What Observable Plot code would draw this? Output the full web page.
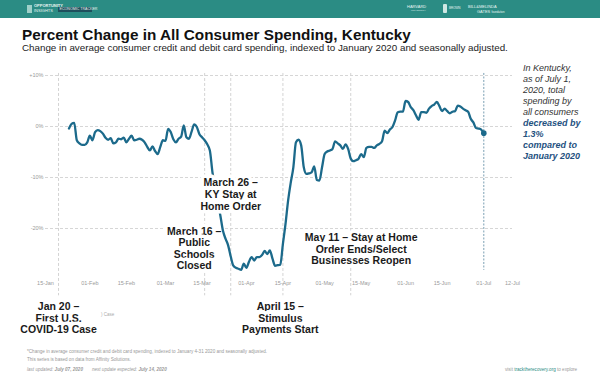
<!DOCTYPE html>
<html>
<head>
<meta charset="utf-8">
<script src="https://cdn.jsdelivr.net/npm/d3@7"></script>
<script src="https://cdn.jsdelivr.net/npm/@observablehq/plot@0.6"></script>
<style>
  html, body { margin: 0; padding: 0; background: #fff; }
  body { width: 600px; height: 382px; overflow: hidden; position: relative; font-family: "Liberation Sans", Arial, sans-serif; }
  .abs { position: absolute; white-space: nowrap; }
  #header { left: 0; top: 0; width: 600px; height: 18px; background: #2b8c84; }
  #title { left: 22px; top: 27px; font-size: 15.3px; font-weight: bold; color: #111; line-height: 1; }
  #subtitle { left: 22px; top: 43px; font-size: 9.8px; color: #222; line-height: 1; }
  #chart { left: 0; top: 55px; }
  #note { left: 523px; top: 62.5px; font-size: 9px; font-style: italic; line-height: 11.1px; color: #333; }
  #note b { color: #24517f; }
  .foot { font-size: 4.6px; color: #999; line-height: 1; }
</style>
</head>
<body>
<div id="header" class="abs"></div>
<div class="abs" style="left:34px;top:4px;font-size:4px;font-weight:bold;color:#e8f4f2;line-height:1;">OPPORTUNITY</div>
<div class="abs" style="left:34px;top:8.5px;font-size:4px;color:#e8f4f2;line-height:1;">INSIGHTS</div>
<div class="abs" style="left:27px;top:5px;width:5px;height:8px;background:#9fd0c9;"></div>
<div class="abs" style="left:58px;top:7px;width:34px;height:5px;background:#1f4f5c;"></div>
<div class="abs" style="left:59.5px;top:7.5px;font-size:3.6px;color:#e8f4f2;line-height:1;">ECONOMIC TRACKER</div>
<div class="abs" style="left:407px;top:5px;font-size:4px;color:#e8f4f2;line-height:1;">HARVARD</div>
<div class="abs" style="left:411px;top:10px;font-size:2.5px;color:#cfe7e3;line-height:1;">UNIVERSITY</div>
<div class="abs" style="left:443px;top:4px;width:4px;height:9px;background:#cfe7e3;border-radius:1px;"></div>
<div class="abs" style="left:449px;top:6.5px;font-size:3px;color:#e8f4f2;line-height:1;">BROWN</div>
<div class="abs" style="left:468px;top:4.5px;font-size:4px;color:#e8f4f2;line-height:1;">BILL&amp;MELINDA</div>
<div class="abs" style="left:477px;top:9.5px;font-size:4px;color:#e8f4f2;line-height:1;">GATES <span style="font-size:2.8px">foundation</span></div>

<div id="title" class="abs">Percent Change in All Consumer Spending, Kentucky</div>
<div id="subtitle" class="abs">Change in average consumer credit and debit card spending, indexed to January 2020 and seasonally adjusted.</div>
<div id="chart" class="abs"></div>
<div id="note" class="abs">In Kentucky,<br>as of July 1,<br>2020, total<br>spending by<br>all consumers<br><b>decreased by<br>1.3%<br>compared to<br>January 2020</b></div>
<div class="abs" style="left:101px;top:313px;font-size:4.5px;color:#aaa;line-height:1;">) Case</div>

<div class="abs foot" style="left:27px;top:350px;">*Change in average consumer credit and debit card spending, indexed to January 4-31 2020 and seasonally adjusted.</div>
<div class="abs foot" style="left:27px;top:357.5px;">This series is based on data from Affinity Solutions.</div>
<div class="abs foot" style="left:27px;top:367.5px;font-style:italic;">last updated: <b>July 07, 2020</b> &nbsp;&nbsp;&nbsp;&nbsp;&nbsp; next update expected: <b>July 14, 2020</b></div>
<div class="abs foot" style="left:505px;top:367.5px;">visit <span style="color:#2b8c84">tracktherecovery.org</span> to explore</div>

<script>
// ---- data ----
const dates = [
  "2020-01-24","2020-01-25","2020-01-26","2020-01-27","2020-01-28","2020-01-29","2020-01-30","2020-01-31",
  "2020-02-01","2020-02-02","2020-02-03","2020-02-04","2020-02-05","2020-02-06","2020-02-07","2020-02-08",
  "2020-02-09","2020-02-10","2020-02-11","2020-02-12","2020-02-13","2020-02-14","2020-02-15","2020-02-16",
  "2020-02-17","2020-02-18","2020-02-19","2020-02-20","2020-02-21","2020-02-22","2020-02-23","2020-02-24",
  "2020-02-25","2020-02-26","2020-02-27","2020-02-28","2020-02-29",
  "2020-03-01","2020-03-02","2020-03-03","2020-03-04","2020-03-05","2020-03-06","2020-03-07","2020-03-08",
  "2020-03-09","2020-03-10","2020-03-11","2020-03-12","2020-03-13","2020-03-14","2020-03-15","2020-03-16",
  "2020-03-17","2020-03-18","2020-03-19","2020-03-20","2020-03-21","2020-03-22","2020-03-23","2020-03-24",
  "2020-03-25","2020-03-26","2020-03-27","2020-03-28","2020-03-29","2020-03-30","2020-03-31",
  "2020-04-01","2020-04-02","2020-04-03","2020-04-04","2020-04-05","2020-04-06","2020-04-07","2020-04-08",
  "2020-04-09","2020-04-10","2020-04-11","2020-04-12","2020-04-13","2020-04-14","2020-04-15","2020-04-16",
  "2020-04-17","2020-04-18","2020-04-19","2020-04-20","2020-04-21","2020-04-22","2020-04-23","2020-04-24",
  "2020-04-25","2020-04-26","2020-04-27","2020-04-28","2020-04-29","2020-04-30",
  "2020-05-01","2020-05-02","2020-05-03","2020-05-04","2020-05-05","2020-05-06","2020-05-07","2020-05-08",
  "2020-05-09","2020-05-10","2020-05-11","2020-05-12","2020-05-13","2020-05-14","2020-05-15","2020-05-16",
  "2020-05-17","2020-05-18","2020-05-19","2020-05-20","2020-05-21","2020-05-22","2020-05-23","2020-05-24",
  "2020-05-25","2020-05-26","2020-05-27","2020-05-28","2020-05-29","2020-05-30","2020-05-31",
  "2020-06-01","2020-06-02","2020-06-03","2020-06-04","2020-06-05","2020-06-06","2020-06-07","2020-06-08",
  "2020-06-09","2020-06-10","2020-06-11","2020-06-12","2020-06-13","2020-06-14","2020-06-15","2020-06-16",
  "2020-06-17","2020-06-18","2020-06-19","2020-06-20","2020-06-21","2020-06-22","2020-06-23","2020-06-24",
  "2020-06-25","2020-06-26","2020-06-27","2020-06-28","2020-06-29","2020-06-30","2020-07-01"
];
const values = [
  -0.4, 0.5, 0.7, -2.7, -3.3, -3.6, -3.6, -3.1,
  -1.8, -2.7, -1.1, -0.7, -0.9, -1.4, -2.2, -2.6,
  -2.3, -3.3, -3.1, -2.4, -2.5, -2.2, -3.1, -2.4,
  -1.8, -2.7, -2.6, -2.4, -2.6, -3.1, -4.0, -4.7,
  -3.9, -4.8, -5.4, -4.0, -2.7,
  -2.8, -0.45, -1.1, -2.5, -3.1, -2.4, -2.0, 0.2,
  -2.1, -2.4, -1.0, 0.4, -0.1, -1.5, -2.1, -2.7,
  -3.5, -4.7, -9.0, -12.0, -15.0, -17.4, -20.4, -22.0,
  -23.3, -25.5, -27.3, -27.7, -27.9, -28.1, -26.9,
  -27.7, -26.5, -25.6, -26.3, -25.6, -25.6, -25.2, -24.4,
  -25.0, -24.3, -25.9, -27.3, -27.2, -27.1, -23.0, -19.1,
  -14.5, -11.0, -8.0, -3.1, -2.6, -3.7, -8.0, -9.3,
  -9.2, -9.0, -7.8, -10.5, -10.6, -8.0,
  -5.4, -4.9, -4.7, -4.4, -2.9, -3.3, -3.7, -4.4,
  -3.5, -4.4, -6.3, -6.8, -6.6, -6.3, -5.4, -6.0,
  -4.2, -4.0, -4.0, -4.2, -3.7, -3.4, -2.9, -0.8,
  -1.3, -0.6, -0.1, 1.2, 2.8, 2.9, 2.9,
  5.0, 4.8, 3.8, 3.2, 2.2, 1.3, 2.8, 2.8,
  2.7, 3.5, 4.0, 4.3, 4.8, 4.0, 3.0, 3.5,
  3.0, 2.6, 2.9, 3.0, 4.1, 3.9, 3.5, 3.2,
  2.9, 1.5, 0.8, -0.3, -0.4, -0.6, -1.3
];
const xTicks = ["2020-01-15","2020-02-01","2020-02-15","2020-03-01","2020-03-15","2020-04-01","2020-04-15",
                "2020-05-01","2020-05-15","2020-06-01","2020-06-15","2020-07-01","2020-07-12"];
const yTicks = [10, 0, -10, -20];
const xDomain = ["2020-01-15", "2020-07-12"];
const eventDates = ["2020-01-20", "2020-03-16", "2020-03-26", "2020-04-15", "2020-05-11"];
const latestDate = "2020-07-01";
const labelDates = ["2020-01-20", "2020-03-12", "2020-03-26", "2020-04-14", "2020-05-15"];
const labelValues = [-37.6, -23.9, -13.3, -37.6, -24.0];
const labelTexts = [
  "Jan 20 –\nFirst U.S.\nCOVID-19 Case",
  "March 16 –\nPublic\nSchools\nClosed",
  "March 26 –\nKY Stay at\nHome Order",
  "April 15 –\nStimulus\nPayments Start",
  "May 11 – Stay at Home\nOrder Ends/Select\nBusinesses Reopen"
];
// the label drawn over the line (its box hides part of the curve)
const overLineLabel = "March 26 –\nKY Stay at\nHome Order";

// ---- build ----
const parse = d3.utcParse("%Y-%m-%d");
const series = dates.map((d, i) => ({date: parse(d), value: values[i]}));
const last = series[series.length - 1];
const labels = labelTexts.map((t, i) => ({date: parse(labelDates[i]), value: labelValues[i], text: t}));
const underLabels = labels.filter(d => d.text !== overLineLabel);
const overLabels = labels.filter(d => d.text === overLineLabel);
const xd = xDomain.map(parse);
const lineColor = "#1c6a8b";
const textOpts = {x: "date", y: "value", text: "text", fontSize: 10.5, fontWeight: "bold",
                  lineHeight: 1.1, fill: "#1a1a1a", stroke: "white", strokeWidth: 7};

const chart = Plot.plot({
  width: 600,
  height: 290,
  marginLeft: 45,
  marginRight: 88,
  marginTop: 20,
  marginBottom: 66,
  x: {type: "utc", domain: xd},
  y: {domain: [-30, 10]},
  style: {fontFamily: "'Liberation Sans', Arial, sans-serif", background: "transparent", overflow: "visible"},
  marks: [
    Plot.ruleY(yTicks, {x1: xd[0], x2: xd[1], stroke: "#d6d6d6", strokeDasharray: "3,2", strokeWidth: 1}),
    Plot.ruleX(eventDates.map(parse), {y1: 10.4, y2: -33.2, stroke: "#d3d3d3", strokeDasharray: "3,2", strokeWidth: 1}),
    Plot.ruleX([parse(latestDate)], {y1: 10.4, y2: -28.2, stroke: "#7a9fb3", strokeDasharray: "2,1.5", strokeWidth: 1}),
    Plot.axisX({ticks: xTicks.map(parse), tickFormat: d3.utcFormat("%d-%b"), tickSize: 0, tickPadding: 1.5,
                fontSize: 5.5, fill: "#9a9a9a", label: null}),
    Plot.axisY({ticks: yTicks, tickFormat: d => (d > 0 ? "+" : "") + d + "%", tickSize: 0, tickPadding: 2,
                fontSize: 5.5, fill: "#9a9a9a", label: null}),
    Plot.text(underLabels, textOpts),
    Plot.lineY(series, {x: "date", y: "value", stroke: lineColor, strokeWidth: 2.3, curve: "monotone-x"}),
    Plot.dot([last], {x: "date", y: "value", r: 2.8, fill: lineColor}),
    Plot.text(overLabels, textOpts)
  ]
});
document.getElementById("chart").appendChild(chart);
</script>
</body>
</html>
